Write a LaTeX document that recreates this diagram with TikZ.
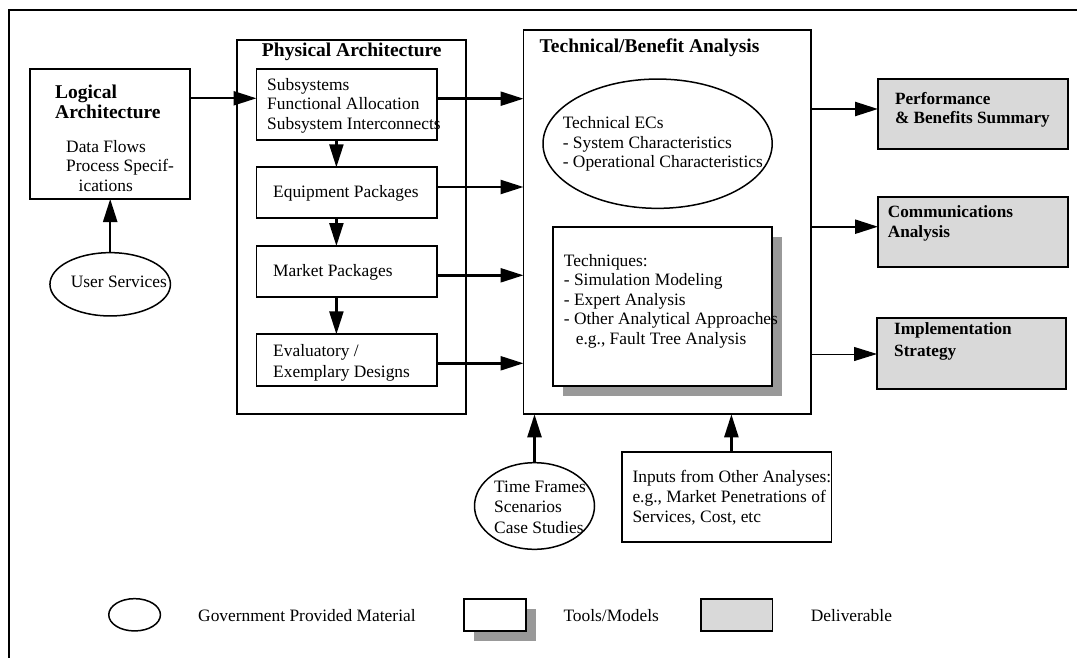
\documentclass[tikz,border=0pt]{standalone}
\usepackage{fontspec}
\setmainfont{Liberation Serif}
\usetikzlibrary{arrows.meta,shapes.geometric,shadows}

\definecolor{delgray}{gray}{0.85}
\definecolor{shadegray}{gray}{0.6}

\newcommand{\txtreg}{\fontsize{17.4}{19.6}\selectfont}
\newcommand{\txthead}{\fontsize{19.5}{20}\selectfont\bfseries}
\newcommand{\txtdeliv}{\fontsize{17.2}{19.5}\selectfont\bfseries}

\begin{document}
\begin{tikzpicture}[x=1pt,y=-1pt,
  frame/.style={line width=2.4pt},
  box/.style={draw, rectangle, line width=1.7pt, inner sep=0pt, outer sep=0pt, anchor=north west},
  shadowbox/.style={box, fill=white, drop shadow={shadow xshift=10pt, shadow yshift=-10pt, fill=shadegray, opacity=1}},
  deliv/.style={box, fill=delgray},
  gov/.style={draw, ellipse, line width=1.5pt, inner sep=0pt, outer sep=0pt},
  lbl/.style={inner sep=0pt, anchor=west, align=left, font=\txtreg},
  arr/.style={line width=2.4pt, -{Triangle[length=23pt,width=14pt]}},
  thinarr/.style={line width=1pt, -{Triangle[length=23pt,width=14pt]}}
]
\useasboundingbox (0,0) rectangle (1077,658);

% outer frame (top and left edges)
\draw[frame] (9,658) -- (9,10) -- (1077,10);

% ---------------- left column ----------------
\node[box, minimum width=159.4pt, minimum height=129.7pt] (logical) at (30.3,69.3) {};
\node[lbl, font=\txthead] (logicalT) at (55,101.7) {Logical\\Architecture};
\node[lbl] (logicalS) at (66,165.8) {Data Flows\\Process Specif-\\\hspace*{12.5pt}ications};

\node[gov, minimum width=120.5pt, minimum height=63.3pt] (usersvc) at (110.2,284.3) {};
\node[lbl] (usersvcT) at (70.6,281.7) {User Services};

% ---------------- physical architecture ----------------
\node[box, minimum width=228.7pt, minimum height=374.3pt] (phys) at (237.3,40) {};
\node[inner sep=0pt, font=\txthead] (physT) at (351.8,51.7) {Physical Architecture};

\node[box, minimum width=180.8pt, minimum height=70.7pt] (subsys) at (256.5,69.3) {};
\node[lbl] (subsysT) at (267,105.5) {Subsystems\\Functional Allocation\\Subsystem Interconnects};

\node[box, minimum width=180.8pt, minimum height=51pt] (equip) at (256.5,167.3) {};
\node[lbl] (equipT) at (273,193.3) {Equipment Packages};

\node[box, minimum width=180.8pt, minimum height=50.7pt] (market) at (256.5,246) {};
\node[lbl] (marketT) at (273,272.7) {Market Packages};

\node[box, minimum width=180.8pt, minimum height=51.4pt] (evalb) at (256.5,334.3) {};
\node[lbl, text depth=0pt] (evalT) at (273,360.8) {Evaluatory /\\[2pt]Exemplary Designs};

% ---------------- technical / benefit analysis ----------------
\node[box, minimum width=287.8pt, minimum height=384.3pt] (tech) at (523.5,30) {};
\node[lbl, font=\txthead] (techT) at (539.5,47.5) {Technical/Benefit Analysis};

\node[gov, minimum width=229.2pt, minimum height=129.3pt] (ecs) at (657.6,143.7) {};
\node[lbl] (ecsT) at (562.6,144.2) {Technical ECs\\- System Characteristics\\- Operational Characteristics};

\node[shadowbox, minimum width=219.2pt, minimum height=159pt] (techq) at (553,226.7) {};
\node[lbl] (techqT) at (563.7,301.2) {Techniques:\\- Simulation Modeling\\- Expert Analysis\\- Other Analytical Approaches\\\hspace*{12pt}e.g., Fault Tree Analysis};

% ---------------- inputs below ----------------
\node[gov, minimum width=120pt, minimum height=86.6pt] (timef) at (534.5,506) {};
\node[lbl] (timefT) at (494,507.5) {Time Frames\\Scenarios\\[1.5pt]Case Studies};

\node[box, minimum width=209.2pt, minimum height=90pt] (inputs) at (622.3,451.7) {};
\node[lbl] (inputsT) at (632.3,497.8) {Inputs from Other Analyses:\\e.g., Market Penetrations of\\Services, Cost, etc};

% ---------------- deliverables ----------------
\node[deliv, minimum width=190pt, minimum height=70pt] (perf) at (878,79) {};
\node[lbl, font=\txtdeliv] (perfT) at (894.8,110) {Performance\\\& Benefits Summary};

\node[deliv, minimum width=190pt, minimum height=70.6pt] (comm) at (878,196.7) {};
\node[lbl, font=\txtdeliv] (commT) at (887.7,223.3) {Communications\\[1pt]Analysis};

\node[deliv, minimum width=189pt, minimum height=70.7pt] (impl) at (877,318.3) {};
\node[lbl, font=\txtdeliv] (implT) at (894,341.3) {Implementation\\[3pt]Strategy};

% ---------------- connectors ----------------
\coordinate (yLog) at (0,98.3);
\coordinate (ySub) at (0,98.7);
\coordinate (yEqu) at (0,187);
\coordinate (yMkt) at (0,275.3);
\coordinate (yEva) at (0,363.3);
\coordinate (yPerf) at (0,109);
\coordinate (yComm) at (0,226.7);
\coordinate (yImpl) at (0,354);
\coordinate (xDown) at (336.4,0);
\coordinate (xInp) at (731.4,0);

\draw[arr] (usersvc.north) -- (logical.south -| usersvc.north);
\draw[arr] (logical.east |- yLog) -- (subsys.west |- yLog);

\draw[arr] (subsys.south -| xDown) -- (equip.north -| xDown);
\draw[arr] (equip.south -| xDown) -- (market.north -| xDown);
\draw[arr] (market.south -| xDown) -- (evalb.north -| xDown);

\draw[arr] (subsys.east |- ySub) -- (tech.west |- ySub);
\draw[arr] (equip.east |- yEqu) -- (tech.west |- yEqu);
\draw[arr] (market.east |- yMkt) -- (tech.west |- yMkt);
\draw[arr] (evalb.east |- yEva) -- (tech.west |- yEva);

\draw[arr] (tech.east |- yPerf) -- (perf.west |- yPerf);
\draw[arr] (tech.east |- yComm) -- (comm.west |- yComm);
\draw[thinarr] (tech.east |- yImpl) -- (impl.west |- yImpl);

\draw[arr] (timef.north) -- (tech.south -| timef.north);
\draw[arr] (inputs.north -| xInp) -- (tech.south -| xInp);

% ---------------- legend ----------------
\node[gov, minimum width=51.7pt, minimum height=32.3pt] (legGov) at (134.6,614.8) {};
\node[lbl] (legGovT) at (198,615.7) {Government Provided Material};

\node[shadowbox, minimum width=62.4pt, minimum height=32.3pt] (legTool) at (463.8,598.7) {};
\node[lbl] (legToolT) at (563.3,615.7) {Tools/Models};

\node[deliv, minimum width=71.4pt, minimum height=32.3pt] (legDel) at (701.2,598.7) {};
\node[lbl] (legDelT) at (810.6,615.7) {Deliverable};
\end{tikzpicture}
\end{document}
